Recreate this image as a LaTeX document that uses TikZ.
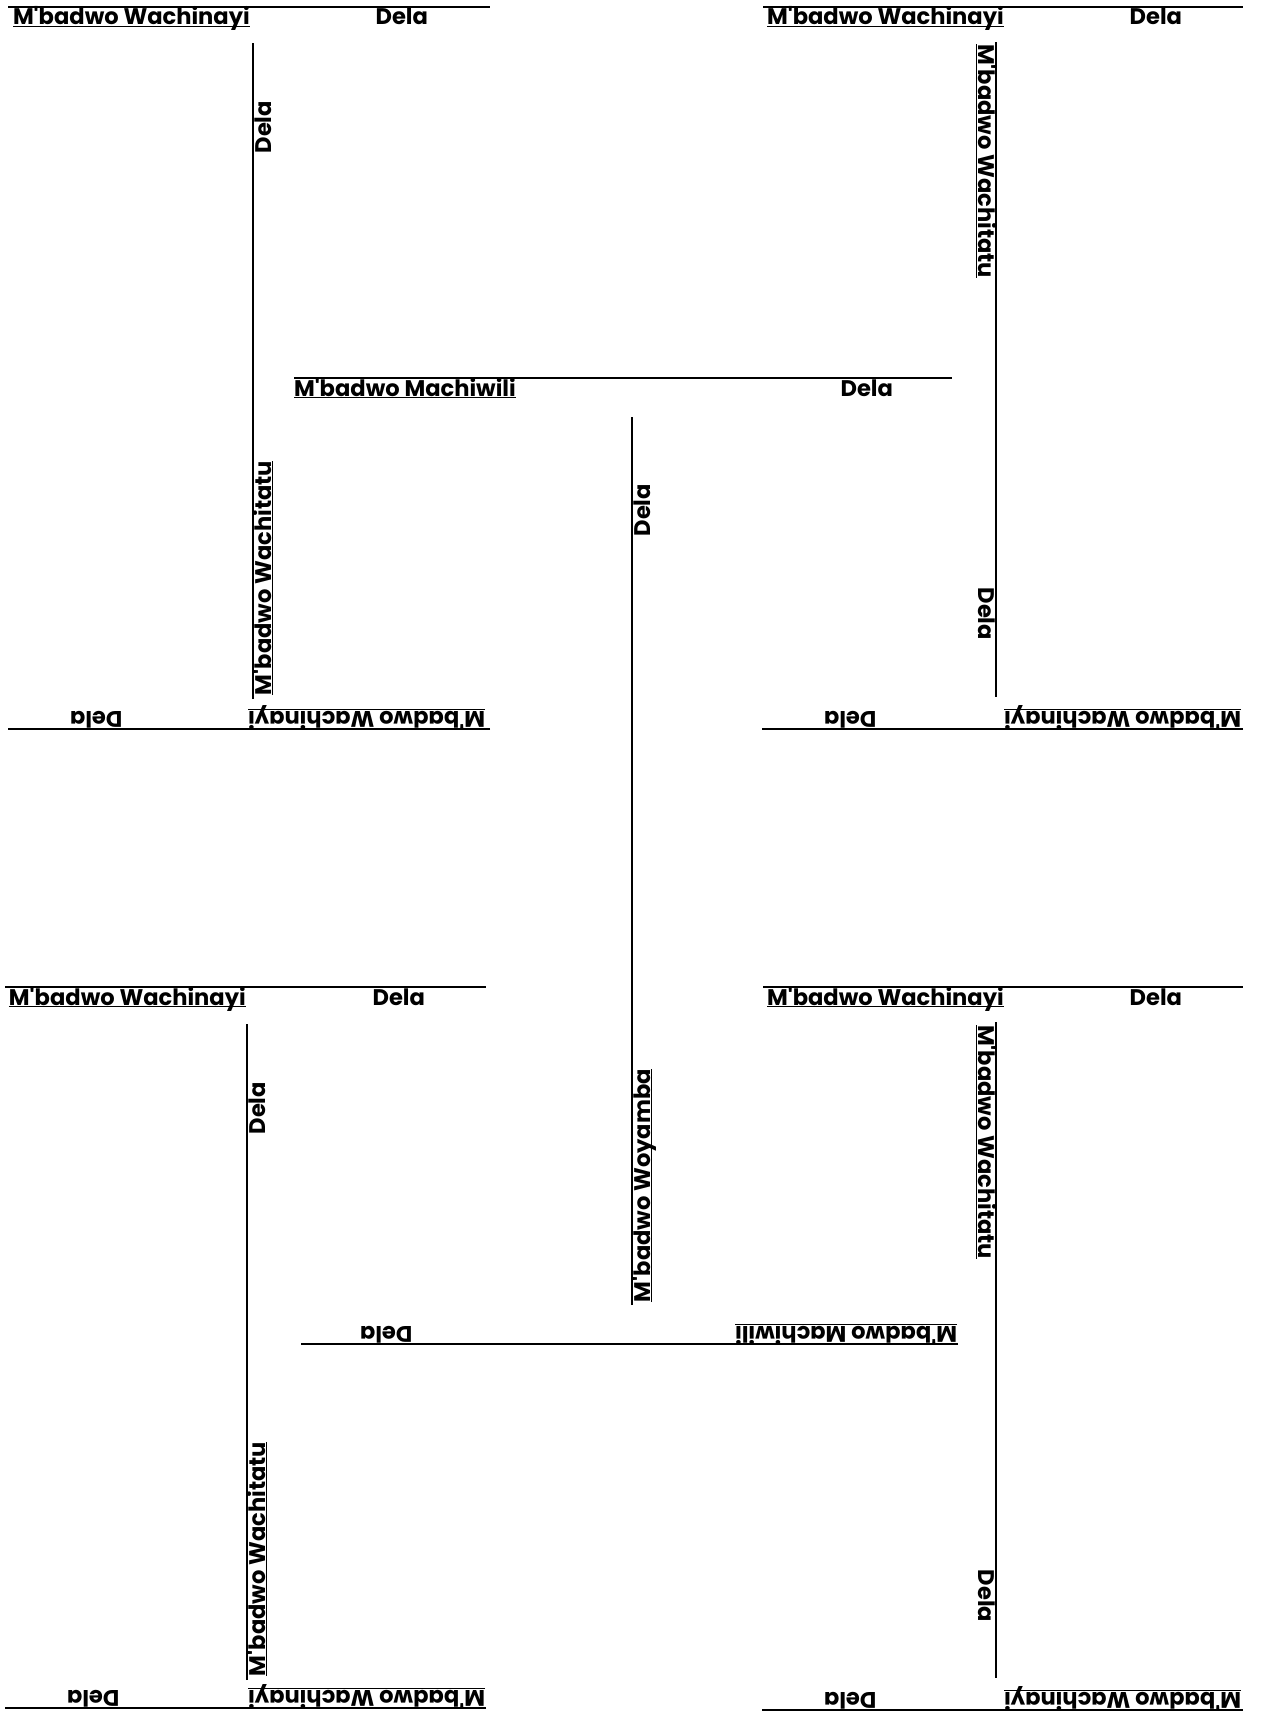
\documentclass[tikz,border=0pt]{standalone}
\usepackage{fontspec}
\setmainfont{Poppins}[Ligatures=TeXOff]
\newcommand\ulname[1]{\setbox0=\hbox{#1}\rlap{\rule[-1pt]{\wd0}{0.55pt}}\box0}
\tikzset{
  matchln/.style={line width=1pt, black},
  lbl/.style={inner sep=0pt, outer sep=0pt, font=\fontsize{11.3}{13}\selectfont\bfseries}
}
% #1 id, #2 x, #3 y, #4 rotation, #5 length, #6 name offset, #7 gap after Dela, #8 name
\newcommand\matchline[8]{%
  \begin{scope}[shift={(#2,-#3)}, rotate=#4, transform shape]
    \coordinate (#1s) at (0,0);
    \coordinate (#1e) at (#5,0);
    \draw[matchln] (#1s) -- (#1e);
    \node[lbl, anchor=base west] (#1w) at (#6,-18) {\ulname{#8}};
    \node[lbl, anchor=base east] (#1d) at ({#5-#7},-18) {Dela};
  \end{scope}}
\begin{document}
\begin{tikzpicture}[x=0.5pt, y=0.5pt]
  \useasboundingbox (0,0) rectangle (1261,-1713);
  % top-left
  \matchline{A1}{8}{7}{0}{482}{5}{62}{M'badwo Wachinayi}
  \matchline{A2}{253}{699}{90}{656}{4}{58}{M'badwo Wachitatu}
  \matchline{A3}{490}{729}{180}{482}{5}{62}{M'badwo Wachinayi}
  % top-right
  \matchline{B1}{763}{7}{0}{480}{4}{61}{M'badwo Wachinayi}
  \matchline{B2}{996}{42}{-90}{655}{2}{57}{M'badwo Wachitatu}
  \matchline{B3}{1243}{729}{180}{481}{2}{62}{M'badwo Wachinayi}
  % centre
  \matchline{C1}{294}{378}{0}{658}{0}{59}{M'badwo Machiwili}
  \matchline{C2}{632}{1305}{90}{888}{3}{67}{M'badwo Woyamba}
  \matchline{C3}{958}{1344}{180}{657}{1}{59}{M'badwo Machiwili}
  % bottom-left
  \matchline{D1}{5}{987}{0}{481}{4}{61}{M'badwo Wachinayi}
  \matchline{D2}{247}{1680}{90}{656}{4}{58}{M'badwo Wachitatu}
  \matchline{D3}{486}{1708}{180}{481}{1}{62}{M'badwo Wachinayi}
  % bottom-right
  \matchline{E1}{763}{987}{0}{480}{4}{61}{M'badwo Wachinayi}
  \matchline{E2}{996}{1022}{-90}{656}{3}{56}{M'badwo Wachitatu}
  \matchline{E3}{1243}{1710}{180}{481}{2}{62}{M'badwo Wachinayi}
\end{tikzpicture}
\end{document}
